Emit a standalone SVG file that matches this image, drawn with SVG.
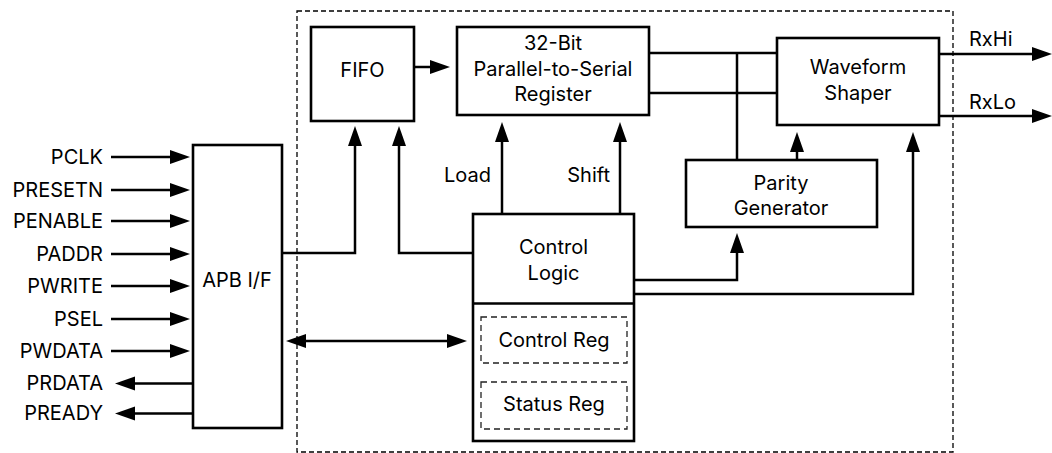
<svg xmlns="http://www.w3.org/2000/svg" width="1052" height="453" viewBox="0 0 1052 453">
<defs>
<style>
.box{fill:#fff;stroke:#000;stroke-width:2.6}
.sub{fill:none;stroke:#222;stroke-width:1.3;stroke-dasharray:6,4}
.bound{fill:none;stroke:#000;stroke-width:1.3;stroke-dasharray:5,3}
.ln{fill:none;stroke:#000;stroke-width:2.5}
.ar{marker-end:url(#ah)}
text{font-family:Inter,"Open Sans","Liberation Sans",sans-serif;font-size:20px;fill:#000}
.c{text-anchor:middle}
.r{text-anchor:end}
</style>
<marker id="ah" markerUnits="userSpaceOnUse" markerWidth="22" markerHeight="16" refX="11" refY="7" orient="auto-start-reverse">
<path d="M0,0 L20,7 L0,14 z" fill="#000"/>
</marker>
</defs>
<rect width="1052" height="453" fill="#fff"/>
<g id="boundary"><rect class="bound" x="297" y="11" width="656" height="441"/></g>
<g id="connectors">
<path class="ln ar" d="M111,157 H181"/>
<path class="ln ar" d="M111,190 H181"/>
<path class="ln ar" d="M111,221 H181"/>
<path class="ln ar" d="M111,254 H181"/>
<path class="ln ar" d="M111,286 H181"/>
<path class="ln ar" d="M111,319 H181"/>
<path class="ln ar" d="M111,351 H181"/>
<path class="ln ar" d="M193,383.5 H124"/>
<path class="ln ar" d="M193,413.5 H124"/>
<path class="ln ar" d="M282,253 H355 V135"/>
<path class="ln ar" d="M473,253 H399 V135"/>
<path class="ln ar" d="M414,67 H441"/>
<path class="ln ar" d="M502,214 V131"/>
<path class="ln ar" d="M620,214 V131"/>
<path class="ln" d="M649,53 H777 M649,93 H777 M737,53 V160"/>
<path class="ln ar" d="M797,160 V141"/>
<path class="ln ar" d="M634,280 H737 V242"/>
<path class="ln ar" d="M634,294 H913 V141"/>
<path class="ln ar" d="M939,54 H1043"/>
<path class="ln ar" d="M939,116 H1043"/>
<path class="ln ar" style="marker-start:url(#ah)" d="M295,341 H458"/>
</g>
<g id="signals">
<text class="r" x="103" y="164">PCLK</text>
<text class="r" x="103" y="197">PRESETN</text>
<text class="r" x="103" y="228">PENABLE</text>
<text class="r" x="103" y="261">PADDR</text>
<text class="r" x="103" y="293">PWRITE</text>
<text class="r" x="103" y="326">PSEL</text>
<text class="r" x="103" y="358">PWDATA</text>
<text class="r" x="103" y="390">PRDATA</text>
<text class="r" x="103" y="420">PREADY</text>
<text class="r" x="491" y="182">Load</text>
<text class="r" x="610" y="182">Shift</text>
<text x="969" y="46">RxHi</text>
<text x="969" y="109">RxLo</text>
</g>
<g id="apb"><rect class="box" x="193" y="145" width="89" height="283"/><text class="c" x="237" y="287">APB I/F</text></g>
<g id="fifo"><rect class="box" x="311" y="27" width="103" height="94"/><text class="c" x="362.5" y="77">FIFO</text></g>
<g id="register"><rect class="box" x="457" y="27" width="192" height="88"/>
<text class="c" x="553" y="50">32-Bit</text><text class="c" x="553" y="76">Parallel-to-Serial</text><text class="c" x="553" y="101">Register</text></g>
<g id="waveform"><rect class="box" x="777" y="38" width="162" height="87"/>
<text class="c" x="858" y="74">Waveform</text><text class="c" x="858" y="100">Shaper</text></g>
<g id="parity"><rect class="box" x="686" y="160" width="191" height="67"/>
<text class="c" x="781" y="190">Parity</text><text class="c" x="781" y="215">Generator</text></g>
<g id="control"><rect class="box" x="473" y="214" width="161" height="227"/>
<line class="ln" x1="473" y1="303.5" x2="634" y2="303.5" style="stroke-width:2.6"/>
<text class="c" x="553.5" y="254">Control</text><text class="c" x="553.5" y="280">Logic</text>
<g id="control-reg"><rect class="sub" x="481" y="317" width="146" height="46"/><text class="c" x="554" y="347">Control Reg</text></g>
<g id="status-reg"><rect class="sub" x="481" y="382" width="146" height="47"/><text class="c" x="554" y="411">Status Reg</text></g>
</g>
</svg>
